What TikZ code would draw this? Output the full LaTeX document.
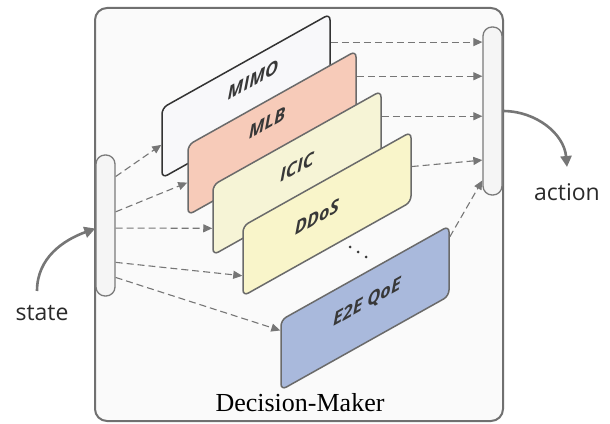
\documentclass[tikz,border=0pt]{standalone}
\usepackage{fontspec}
\setmainfont{Liberation Serif}
\newfontfamily\lblfont{Open Sans}
\newfontfamily\cardfont{Open Sans}
\usetikzlibrary{arrows.meta,calc}
\definecolor{framegray}{HTML}{707070}
\definecolor{bgfill}{HTML}{FAFAFA}
\definecolor{bargray}{HTML}{7A7A7A}
\definecolor{barfill}{HTML}{F5F5F5}
\definecolor{cardline}{HTML}{6A6A6A}
\definecolor{txtgray}{HTML}{383838}
\definecolor{arrowgray}{HTML}{767676}
\definecolor{lblgray}{HTML}{2A2A2A}
\definecolor{mimofill}{HTML}{F8F8FA}
\definecolor{mlbfill}{HTML}{F7CBB9}
\definecolor{icicfill}{HTML}{F6F4D6}
\definecolor{ddosfill}{HTML}{F9F5CA}
\definecolor{qoefill}{HTML}{A9B9DC}
\tikzset{
  frame/.style={draw=framegray, line width=2pt, rounded corners=12pt, fill=bgfill,
    minimum width=408pt, minimum height=413pt, inner sep=0pt},
  bar/.style={draw=bargray, line width=1.3pt, fill=barfill, rounded corners=9pt,
    minimum width=19pt, inner sep=0pt},
  card/.style={draw=cardline, line width=1.5pt, rounded corners=6pt,
    minimum width=168pt, minimum height=70pt, inner sep=0pt, yslant=0.56},
  cardtxt/.style={font=\cardfont\bfseries\itshape\fontsize{18}{20}\selectfont,
    text=txtgray, yslant=0.56, inner sep=0pt},
  flow/.style={draw=arrowgray, line width=1.1pt, dash pattern=on 7pt off 4pt,
    -{Triangle[length=9pt,width=8pt]}},
  io/.style={draw=arrowgray, line width=2.6pt, -{Triangle[length=11pt,width=11pt]}},
  iolbl/.style={font=\lblfont\fontsize{23}{26}\selectfont, text=lblgray, inner sep=0pt},
  dot/.style={circle, fill=txtgray, inner sep=0pt, minimum size=3pt},
}
\begin{document}
\begin{tikzpicture}[x=1pt,y=1pt]
\useasboundingbox (0,0) rectangle (610,423);
% frame
\node[frame] (dm) at (299,208.5) {};
\node[font=\fontsize{26}{30}\selectfont, inner sep=0pt] (dmlbl) at (300,20) {Decision-Maker};
% bars
\node[bar, minimum height=141pt] (state) at (105.5,197.5) {};
\node[bar, minimum height=168pt] (action) at (492.5,312) {};
% cards
\node[card, draw=black!80, fill=mimofill] (mimo) at (246,327) {};
\node[cardtxt] (mimot) at ($(mimo.center)+(7,16)$) {MIMO};
\node[card, fill=mlbfill] (mlb) at (272,290) {};
\node[cardtxt] (mlbt) at ($(mlb.center)+(-5,10)$) {MLB};
\node[card, fill=icicfill] (icic) at (297,250) {};
\node[cardtxt] (icict) at ($(icic.center)+(0,6)$) {ICIC};
\node[card, fill=ddosfill] (ddos) at (327,209) {};
\node[cardtxt] (ddost) at ($(ddos.center)+(-10,-3)$) {DDoS};
\node[card, fill=qoefill] (qoe) at (365,115) {};
\node[cardtxt] (qoet) at ($(qoe.center)+(2,5)$) {E2E QoE};
% dots
\node[dot] (d1) at (350,176) {};
\node[dot] (d2) at (358,171) {};
\node[dot] (d3) at (366,166) {};
% left arrows
\draw[flow] ($(state.north east)!0.156!(state.south east)$) -- ($(mimo.north west)!0.52!(mimo.south west)$);
\draw[flow] ($(state.north east)!0.404!(state.south east)$) -- ($(mlb.north west)!0.53!(mlb.south west)$);
\draw[flow] ($(state.north east)!0.518!(state.south east)$) -- ($(icic.north west)!0.61!(icic.south west)$);
\draw[flow] ($(state.north east)!0.759!(state.south east)$) -- ($(ddos.north west)!0.70!(ddos.south west)$);
\draw[flow] ($(state.north east)!0.865!(state.south east)$) -- ($(qoe.north west)!0.15!(qoe.south west)$);
% right arrows
\coordinate (r1) at ($(mimo.north east)!0.41!(mimo.south east)$);
\coordinate (r2) at ($(mlb.north east)!0.37!(mlb.south east)$);
\coordinate (r3) at ($(icic.north east)!0.37!(icic.south east)$);
\draw[flow] (r1) -- (r1 -| action.west);
\draw[flow] (r2) -- (r2 -| action.west);
\draw[flow] (r3) -- (r3 -| action.west);
\draw[flow] (ddos.east) -- ($(action.north west)!0.79!(action.south west)$);
\draw[flow] ($(qoe.north east)!0.17!(qoe.south east)$) -- ($(action.north west)!0.91!(action.south west)$);
% state / action
\node[iolbl] (statelbl) at (42,110) {state};
\node[iolbl] (actionlbl) at (567,231) {action};
\coordinate (sfrom) at (37,132);
\draw[io] (sfrom) to[out=90, in=200] ($(state.west)+(0,-3)$);
\coordinate (ato) at (567,256);
\draw[io] (action.east) to[out=0, in=95] (ato);
\end{tikzpicture}
\end{document}
